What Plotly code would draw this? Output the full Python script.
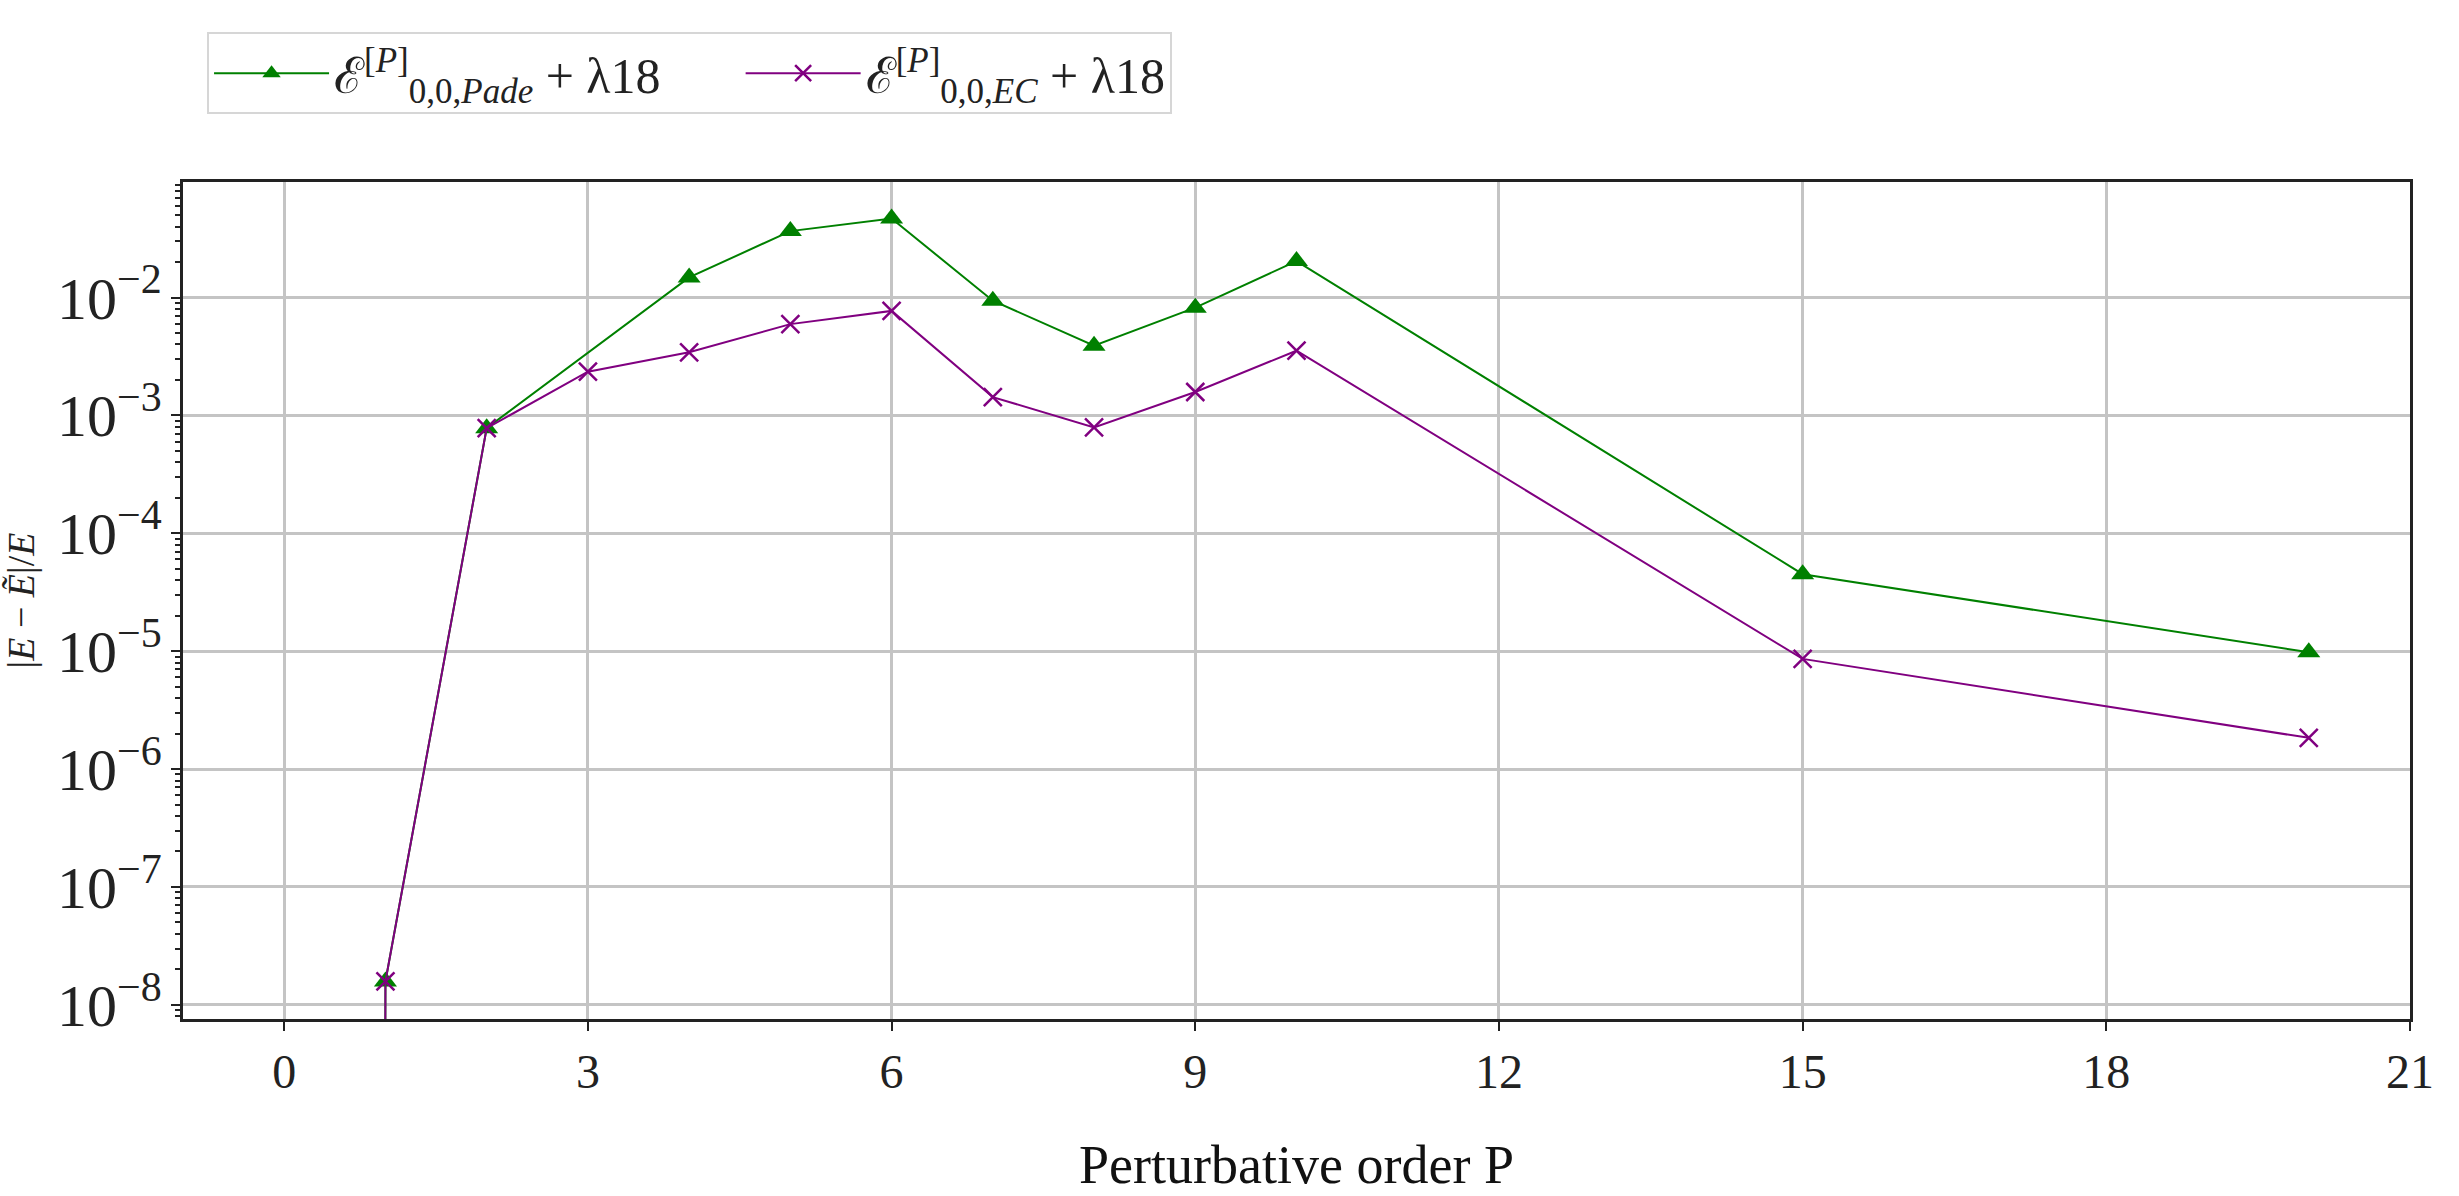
import plotly.graph_objects as go

# ---- data ----
P_pade = [0, 1, 2, 4, 5, 6, 7, 8, 9, 10, 15, 20]
err_pade = [0.0, 1.58e-8, 7.8e-4, 1.48e-2, 3.66e-2, 4.68e-2, 9.4e-3, 3.9e-3, 8.2e-3, 2.04e-2, 4.5e-5, 9.8e-6]

P_ec = [0, 1, 2, 3, 4, 5, 6, 7, 8, 9, 10, 15, 20]
err_ec = [0.0, 1.58e-8, 7.8e-4, 2.35e-3, 3.43e-3, 5.95e-3, 7.7e-3, 1.43e-3, 7.9e-4, 1.58e-3, 3.54e-3, 8.6e-6, 1.84e-6]

name_pade = "ℰ<sup>[<i>P</i>]</sup><sub>0,0,<i>Pade</i></sub> + λ18"
name_ec = "ℰ<sup>[<i>P</i>]</sup><sub>0,0,<i>EC</i></sub> + λ18"

x_ticks = [0, 3, 6, 9, 12, 15, 18, 21]

# a zero error cannot sit on a log axis; it is clipped to a tiny floor (as matplotlib does)
LOG_FLOOR = 1e-300


def clip(vals):
    return [v if v > 0 else LOG_FLOOR for v in vals]


SERIF = "Liberation Serif, Times New Roman, serif"
GAP = "\u00a0" * 6  # spacing between the two legend entries

fig = go.Figure()
fig.add_trace(go.Scatter(
    x=P_pade, y=clip(err_pade), mode="lines+markers", name=name_pade + GAP,
    line=dict(color="#008000", width=2),
    marker=dict(symbol="triangle-up", size=20, color="#008000", line=dict(width=0)),
))
fig.add_trace(go.Scatter(
    x=P_ec, y=clip(err_ec), mode="lines+markers", name=name_ec,
    line=dict(color="#800080", width=2),
    marker=dict(symbol="x-thin", size=18, color="#800080", line=dict(width=2.5, color="#800080")),
))

fig.update_layout(
    width=2459, height=1196,
    margin=dict(l=183, r=49, t=182, b=164),
    paper_bgcolor="white", plot_bgcolor="white",
    font=dict(family=SERIF, size=48, color="#222"),
    showlegend=True,
    legend=dict(
        orientation="h", x=0.0108, xanchor="left", y=1.081, yanchor="bottom",
        bgcolor="white", bordercolor="#d6d6d6", borderwidth=2,
        font=dict(family=SERIF, size=50, color="#222"),
        itemwidth=115,
    ),
)

fig.update_xaxes(
    range=[-1, 21], tickvals=x_ticks, ticktext=[str(t) for t in x_ticks],
    showgrid=True, gridcolor="#c4c4c4", gridwidth=2.5,
    showline=True, linecolor="#222", linewidth=2.5, mirror=True,
    ticks="outside", ticklen=9, tickwidth=2, tickcolor="#222",
    zeroline=False,
    title=dict(text="Perturbative order P", font=dict(family=SERIF, size=54, color="#111"), standoff=48),
)

fig.update_yaxes(
    type="log", range=[-8.12, -1.02], dtick=1, exponentformat="power", showexponent="all",
    showgrid=True, gridcolor="#c4c4c4", gridwidth=2.5,
    showline=True, linecolor="#222", linewidth=2.5, mirror=True,
    ticks="outside", ticklen=9, tickwidth=2, tickcolor="#222",
    minor=dict(ticks="outside", ticklen=5, tickwidth=1.5, tickcolor="#222", dtick="D1", showgrid=False),
    zeroline=False,
    title=dict(text="|<i>E</i> − <i>Ẽ</i>|/<i>E</i>", font=dict(family=SERIF, size=38, color="#222"), standoff=14),
)

fig.write_html("out.html")
